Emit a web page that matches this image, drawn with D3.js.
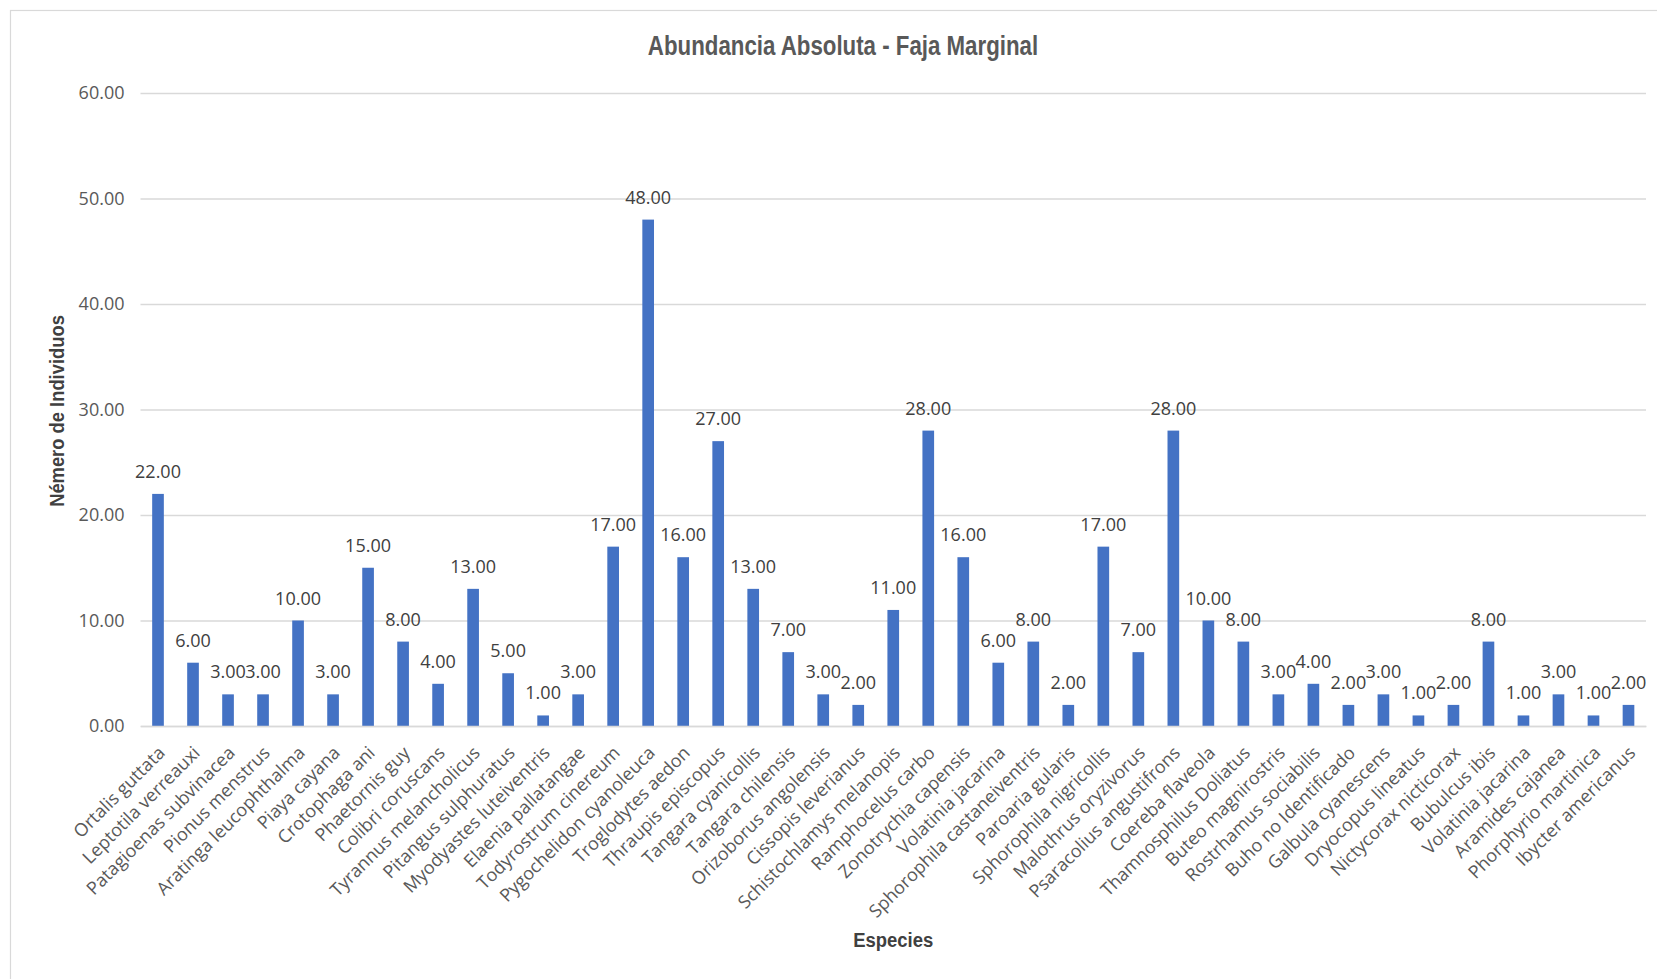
<!DOCTYPE html>
<html lang="es">
<head>
<meta charset="utf-8">
<title>Abundancia Absoluta - Faja Marginal</title>
<script src="https://cdn.jsdelivr.net/npm/d3@7"></script>
<style>
  body { margin: 0; background: #fff; }
  .tick text { font-family: "Open Sans", sans-serif; }
</style>
</head>
<body>
<script>
// species (category order as in the sheet; one name appears twice)
var especies = [
  "Ortalis guttata", "Leptotila verreauxi", "Patagioenas subvinacea", "Pionus menstrus",
  "Aratinga leucophthalma", "Piaya cayana", "Crotophaga ani", "Phaetornis guy",
  "Colibri coruscans", "Tyrannus melancholicus", "Pitangus sulphuratus", "Myodyastes luteiventris",
  "Elaenia pallatangae", "Todyrostrum cinereum", "Pygochelidon cyanoleuca", "Troglodytes aedon",
  "Thraupis episcopus", "Tangara cyanicollis", "Tangara chilensis", "Orizoborus angolensis",
  "Cissopis leverianus", "Schistochlamys melanopis", "Ramphocelus carbo", "Zonotrychia capensis",
  "Volatinia jacarina", "Sphorophila castaneiventris", "Paroaria gularis", "Sphorophila nigricollis",
  "Malothrus oryzivorus", "Psaracolius angustifrons", "Coereba flaveola", "Thamnosphilus Doliatus",
  "Buteo magnirostris", "Rostrhamus sociabilis", "Buho no Identificado", "Galbula cyanescens",
  "Dryocopus lineatus", "Nictycorax nicticorax", "Bubulcus ibis", "Volatinia jacarina",
  "Aramides cajanea", "Phorphyrio martinica", "Ibycter americanus"
];
var individuos = [
  22, 6, 3, 3, 10, 3, 15, 8, 4, 13, 5, 1, 3, 17, 48, 16, 27, 13, 7, 3, 2, 11,
  28, 16, 6, 8, 2, 17, 7, 28, 10, 8, 3, 4, 2, 3, 1, 2, 8, 1, 3, 1, 2
];
var yTicks = [0, 10, 20, 30, 40, 50, 60];

var W = 1657, H = 979;
var plotL = 140.5, plotR = 1646, plotT = 93, plotB = 726;

var svg = d3.select("body").append("svg")
  .attr("width", W).attr("height", H);

svg.append("rect").attr("width", W).attr("height", H).attr("fill", "#fff");

// chart border (runs off the right and bottom edges)
svg.append("rect")
  .attr("x", 10.5).attr("y", 10.5)
  .attr("width", W + 20).attr("height", H + 20)
  .attr("fill", "none").attr("stroke", "#d9d9d9").attr("stroke-width", 1.2);

var x = d3.scaleBand()
  .domain(d3.range(especies.length))
  .range([plotL, plotR])
  .paddingInner(2 / 3)
  .paddingOuter(1 / 3);

var y = d3.scaleLinear().domain([0, 60]).range([plotB, plotT]);

// gridlines + y labels
var gy = svg.append("g")
  .attr("transform", "translate(" + plotL + ",0)")
  .call(d3.axisLeft(y).tickValues(yTicks).tickFormat(d3.format(".2f"))
    .tickSize(-(plotR - plotL)).tickPadding(16));
gy.select(".domain").remove();
gy.selectAll(".tick line").attr("stroke", "#d9d9d9").attr("stroke-width", 1.3);
gy.selectAll(".tick text").attr("fill", "#595959").style("font-size", "18px");

// bars
svg.selectAll("rect.bar")
  .data(individuos)
  .enter().append("rect")
  .attr("class", "bar")
  .attr("x", function(d, i) { return x(i); })
  .attr("y", function(d) { return y(d); })
  .attr("width", x.bandwidth())
  .attr("height", function(d) { return y(0) - y(d); })
  .attr("fill", "#4472c4");

// data labels
svg.selectAll("text.lbl")
  .data(individuos)
  .enter().append("text")
  .attr("class", "lbl")
  .attr("x", function(d, i) { return x(i) + x.bandwidth() / 2; })
  .attr("y", function(d) { return y(d) - 16; })
  .attr("text-anchor", "middle")
  .attr("fill", "#404040")
  .style("font-family", "'Open Sans', sans-serif")
  .style("font-size", "18px")
  .text(function(d) { return d.toFixed(2); });

// category axis
var gx = svg.append("g")
  .attr("transform", "translate(0," + plotB + ")")
  .call(d3.axisBottom(x).tickSize(0).tickFormat(function(i) { return especies[i]; }));
gx.select(".domain").attr("stroke", "#d9d9d9").attr("stroke-width", 1.3);
gx.selectAll(".tick text")
  .attr("fill", "#595959")
  .style("font-size", "18px")
  .attr("text-anchor", "end")
  .attr("dy", "0")
  .attr("transform", "translate(8,28) rotate(-45)")
  .attr("y", 0).attr("x", 0);

// titles (narrow bold look: squeeze horizontally)
var narrow = "'Liberation Sans Narrow', 'Arial Narrow', 'Liberation Sans', sans-serif";

svg.append("text")
  .attr("transform", "translate(843,55) scale(0.825,1)")
  .attr("text-anchor", "middle")
  .attr("fill", "#595959")
  .style("font-family", narrow)
  .style("font-weight", "bold").style("font-size", "27px")
  .text("Abundancia Absoluta - Faja Marginal");

svg.append("text")
  .attr("transform", "translate(" + (plotL + plotR) / 2 + ",947) scale(0.88,1)")
  .attr("text-anchor", "middle")
  .attr("fill", "#404040")
  .style("font-family", narrow)
  .style("font-weight", "bold").style("font-size", "21px")
  .text("Especies");

svg.append("text")
  .attr("transform", "translate(64," + 411 + ") rotate(-90) scale(0.874,1)")
  .attr("text-anchor", "middle")
  .attr("fill", "#404040")
  .style("font-family", narrow)
  .style("font-weight", "bold").style("font-size", "21px")
  .text("Némero de Individuos");
</script>
</body>
</html>
